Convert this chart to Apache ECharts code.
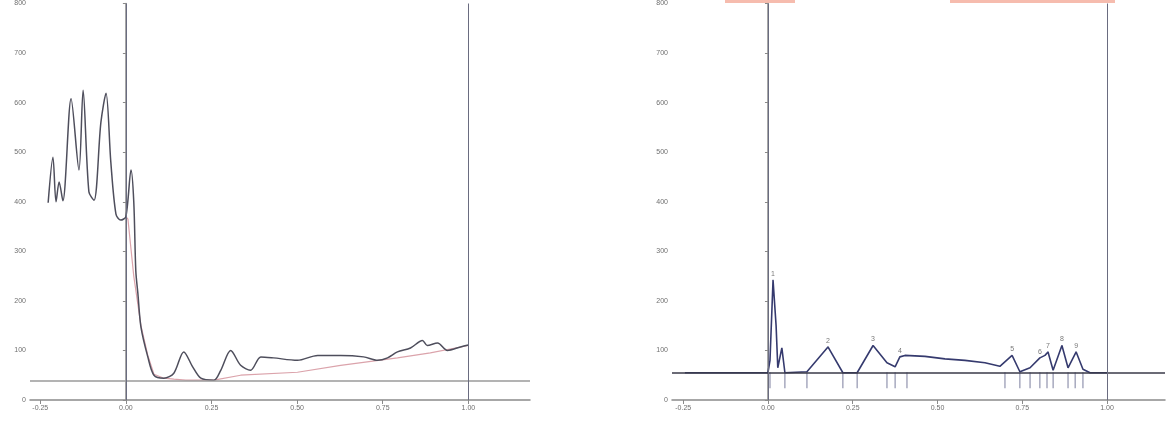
<!DOCTYPE html>
<html>
<head>
<meta charset="utf-8">
<script src="https://cdn.jsdelivr.net/npm/echarts@6/dist/echarts.min.js"></script>
<style>html,body{margin:0;padding:0;background:#fff}#c{width:1171px;height:427px}</style>
</head>
<body>
<div id="c"></div>
<script>
// ---- data (x in fraction units, y in counts) ----
var xTicks = [-0.25, 0, 0.25, 0.5, 0.75, 1];
var yTicks = [0, 100, 200, 300, 400, 500, 600, 700, 800];

// left panel: raw signal
var rawX = [-0.227,-0.213,-0.204,-0.195,-0.184,-0.160,-0.137,-0.125,-0.108,-0.093,-0.073,-0.058,-0.044,-0.029,-0.015,0.000,0.015,0.023,0.029,0.035,0.044,0.064,0.082,0.111,0.140,0.169,0.195,0.219,0.257,0.277,0.306,0.335,0.364,0.394,0.431,0.501,0.560,0.627,0.694,0.735,0.764,0.793,0.831,0.866,0.880,0.910,0.939,0.977,1.000];
var rawY = [398,490,400,440,402,608,464,625,420,403,560,619,480,375,363,370,464,400,260,215,147,87,50,44,54,97,67,44,40,60,100,70,60,87,85,80,90,90,87,80,85,97,105,120,110,115,100,107,111];

// left panel: fitted baseline
var fitX = [0.000,0.006,0.023,0.044,0.064,0.082,0.111,0.140,0.175,0.219,0.257,0.335,0.501,0.627,0.793,0.889,1.000];
var fitY = [370,365,250,150,90,52,44,42,40,40,40,50,56,70,85,95,110];

// right panel: corrected signal
var corX = [-0.245,0.000,0.006,0.015,0.024,0.029,0.041,0.050,0.115,0.177,0.221,0.263,0.310,0.351,0.375,0.389,0.404,0.463,0.522,0.581,0.640,0.684,0.720,0.743,0.773,0.802,0.817,0.826,0.841,0.867,0.885,0.909,0.929,0.950,1.000];
var corY = [55,55,80,242,150,65,105,55,57,107,55,55,110,75,67,87,90,88,83,80,75,68,90,57,65,85,90,97,60,110,65,97,62,55,55];

// right panel: peak apexes and boundaries
var peakX = [0.015,0.177,0.310,0.389,0.720,0.802,0.826,0.867,0.909];
var peakY = [242,107,110,87,90,85,97,110,97];
var peakNames = ['1','2','3','4','5','6','7','8','9'];
var boundX = [0.006,0.050,0.115,0.221,0.263,0.351,0.375,0.410,0.699,0.743,0.773,0.802,0.823,0.841,0.885,0.906,0.929];

var leftLevel = 38;   // horizontal threshold, left panel
var rightLevel = 55;  // baseline, right panel
var roi = [0, 1];     // vertical range lines

function zip(a, b) { return a.map(function (v, i) { return [v, b[i]]; }); }

var axisGrey = '#8a8a8a';
function xAxis(idx, mn, mx) {
  return {
    type: 'value', gridIndex: idx, min: mn, max: mx,
    axisLine: { show: true, onZero: false, lineStyle: { color: axisGrey, width: 1.5 } },
    axisTick: { show: true, customValues: xTicks, length: 4, lineStyle: { color: axisGrey } },
    axisLabel: { customValues: xTicks, fontSize: 7, color: '#6f6f6f', margin: 5,
      formatter: function (v) { return v.toFixed(2); } },
    splitLine: { show: false }
  };
}
function yAxis(idx) {
  return {
    type: 'value', gridIndex: idx, min: 0, max: 800, interval: 100,
    axisLine: { show: true, lineStyle: { color: axisGrey, width: 1.5 } },
    axisTick: { show: true, length: 3, lineStyle: { color: axisGrey } },
    axisLabel: { fontSize: 7, color: '#6f6f6f', margin: 4 },
    splitLine: { show: false }
  };
}
function refLines(level, hColor) {
  return {
    silent: true, symbol: 'none', label: { show: false },
    data: [
      { yAxis: level, lineStyle: { color: hColor, width: 1.5, type: 'solid' } },
      { xAxis: roi[0], lineStyle: { color: '#6a6c80', width: 1, type: 'solid' } },
      { xAxis: roi[1], lineStyle: { color: '#6a6c80', width: 1, type: 'solid' } }
    ]
  };
}

var chart = echarts.init(document.getElementById('c'));
chart.setOption({
  animation: false,
  backgroundColor: '#fff',
  grid: [
    { left: 30, top: 3, width: 500, height: 397 },
    { left: 672, top: 3, width: 493, height: 397 }
  ],
  xAxis: [xAxis(0, -0.28, 1.18), xAxis(1, -0.283, 1.171)],
  yAxis: [yAxis(0), yAxis(1)],
  graphic: [
    { type: 'rect', shape: { x: 725, y: 0, width: 70, height: 3 }, style: { fill: '#f6bcae' } },
    { type: 'rect', shape: { x: 950, y: 0, width: 165, height: 3 }, style: { fill: '#f6bcae' } }
  ],
  series: [
    { type: 'line', xAxisIndex: 0, yAxisIndex: 0, data: zip(fitX, fitY), symbol: 'none',
      lineStyle: { color: '#dba3ab', width: 1.2 }, z: 2 },
    { type: 'line', xAxisIndex: 0, yAxisIndex: 0, data: zip(rawX, rawY), symbol: 'none', smooth: 0.3,
      lineStyle: { color: '#4e4e5c', width: 1.5 }, z: 3,
      markLine: refLines(leftLevel, '#9a9a9a') },
    { type: 'line', xAxisIndex: 1, yAxisIndex: 1, data: zip(corX, corY), symbol: 'none',
      lineStyle: { color: '#353a6e', width: 1.6 }, z: 3,
      markLine: refLines(rightLevel, '#3a3a48') },
    { type: 'scatter', xAxisIndex: 1, yAxisIndex: 1,
      data: boundX.map(function (x) { return [x, 40]; }),
      symbol: 'rect', symbolSize: [1, 16], itemStyle: { color: '#5a5e86' }, z: 4 },
    { type: 'scatter', xAxisIndex: 1, yAxisIndex: 1,
      data: peakX.map(function (x, i) { return { value: [x, peakY[i]], name: peakNames[i] }; }),
      symbol: 'rect', symbolSize: [1, 1], itemStyle: { color: '#5a5e86' },
      label: { show: true, position: 'top', distance: 2, fontSize: 7, color: '#555',
        formatter: function (p) { return p.name; } }, z: 5 }
  ]
});
</script>
</body>
</html>
